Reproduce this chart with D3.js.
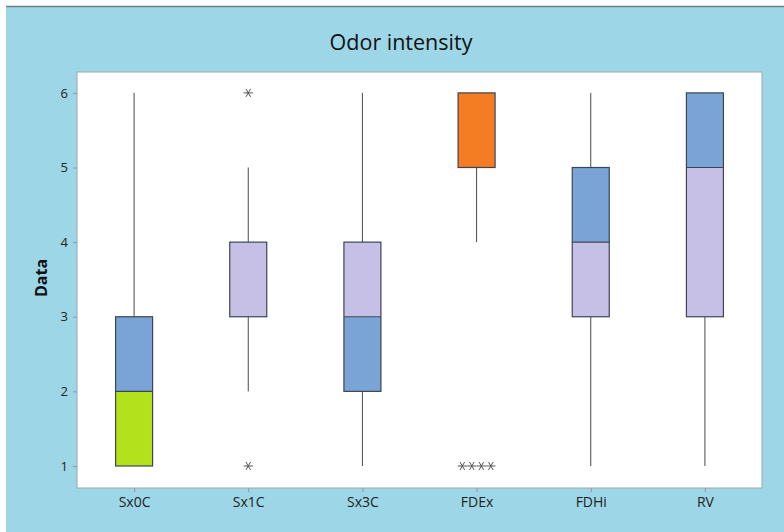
<!DOCTYPE html>
<html><head><meta charset="utf-8">
<script src="https://cdn.jsdelivr.net/npm/d3@7"></script>
<style>body{margin:0;background:#fff}svg{display:block}</style>
</head><body>
<script>
const categories = ["Sx0C","Sx1C","Sx3C","FDEx","FDHi","RV"];
const whiskerLow  = [1, 2, 1, 4, 1, 1];
const q1          = [1, 3, 2, 5, 3, 3];
const median      = [2, 3, 3, 5, 4, 5];
const q3          = [3, 4, 4, 6, 5, 6];
const whiskerHigh = [6, 5, 6, 6, 6, 6];
const outliers    = [[], [6, 1], [], [1, 1, 1, 1], [], []];
const lowerColor  = ["#b3e21c","#c6bfe6","#7ba4d6","#f47c22","#c6bfe6","#c6bfe6"];
const upperColor  = ["#7ba4d6","#c6bfe6","#c6bfe6","#f47c22","#7ba4d6","#7ba4d6"];
const yTicks = [1,2,3,4,5,6];

const W = 784, H = 532;
const FONT = "Open Sans, Noto Sans, sans-serif";
const svg = d3.select("body").append("svg").attr("width", W).attr("height", H);
svg.append("rect").attr("x",6).attr("y",6).attr("width",W-6).attr("height",H-6).attr("fill","#9dd6e7");
svg.append("line").attr("x1",6).attr("x2",W).attr("y1",6.5).attr("y2",6.5).attr("stroke","#6f7f86").attr("stroke-width",1.5);

const L = 77, R = 762, T = 72, B = 488;
svg.append("rect").attr("x",L).attr("y",T).attr("width",R-L).attr("height",B-T)
  .attr("fill","#fff").attr("stroke","#9aa8ae").attr("stroke-width",1);

const x = d3.scalePoint().domain(categories).range([L, R]).padding(0.5);
const y = d3.scaleLinear().domain([0.705, 6.28]).range([B, T]);
const bw = 37;

svg.append("text").attr("x",401).attr("y",50).attr("text-anchor","middle")
  .attr("font-family",FONT).attr("font-size",21.5).attr("fill","#111")
  .text("Odor intensity");

const yAxis = d3.axisLeft(y).tickValues(yTicks).tickSize(4).tickPadding(5).tickFormat(d3.format("d"));
const gy = svg.append("g").attr("transform",`translate(${L},0)`).call(yAxis);
const xAxis = d3.axisBottom(x).tickSize(4).tickPadding(5);
const gx = svg.append("g").attr("transform",`translate(0,${B})`).call(xAxis);
[gy,gx].forEach(g=>{
  g.select(".domain").remove();
  g.selectAll("line").attr("stroke","#8a9aa0");
  g.selectAll("text").attr("font-family",FONT).attr("fill","#222");
});
gy.selectAll("text").attr("font-size",13);
gx.selectAll("text").attr("font-size",14);
svg.append("text").attr("transform",`translate(47,${(T+B)/2 - 2}) rotate(-90)`).attr("text-anchor","middle")
  .attr("font-family",FONT).attr("font-size",16).attr("font-weight","bold").attr("fill","#111")
  .text("Data");

const g = svg.append("g");
categories.forEach((c,i)=>{
  const cx = x(c);
  g.append("line").attr("x1",cx).attr("x2",cx).attr("y1",y(q3[i])).attr("y2",y(whiskerHigh[i])).attr("stroke","#4a4a4a");
  g.append("line").attr("x1",cx).attr("x2",cx).attr("y1",y(q1[i])).attr("y2",y(whiskerLow[i])).attr("stroke","#4a4a4a");
  g.append("rect").attr("x",cx-bw/2).attr("width",bw).attr("y",y(median[i])).attr("height",y(q1[i])-y(median[i]))
    .attr("fill",lowerColor[i]);
  g.append("rect").attr("x",cx-bw/2).attr("width",bw).attr("y",y(q3[i])).attr("height",y(median[i])-y(q3[i]))
    .attr("fill",upperColor[i]);
  g.append("rect").attr("x",cx-bw/2).attr("width",bw).attr("y",y(q3[i])).attr("height",y(q1[i])-y(q3[i]))
    .attr("fill","none").attr("stroke","#3d4455").attr("stroke-width",1.2);
  if (median[i] > q1[i] && median[i] < q3[i])
    g.append("line").attr("x1",cx-bw/2).attr("x2",cx+bw/2).attr("y1",y(median[i])).attr("y2",y(median[i]))
      .attr("stroke","#3d4455").attr("stroke-width",1.2);
  const counts = {};
  outliers[i].forEach(v=>{counts[v]=(counts[v]||0)+1;});
  const seen = {};
  outliers[i].forEach(v=>{
    const n = counts[v]; const k = seen[v]=(seen[v]||0); seen[v]++;
    const ox = cx + (k-(n-1)/2)*9.5;
    g.append("path").attr("d", d3.symbol(d3.symbolAsterisk, 60)())
      .attr("transform",`translate(${ox},${y(v)}) rotate(90)`)
      .attr("fill","none").attr("stroke","#555").attr("stroke-width",1);
  });
});
</script>
</body></html>
